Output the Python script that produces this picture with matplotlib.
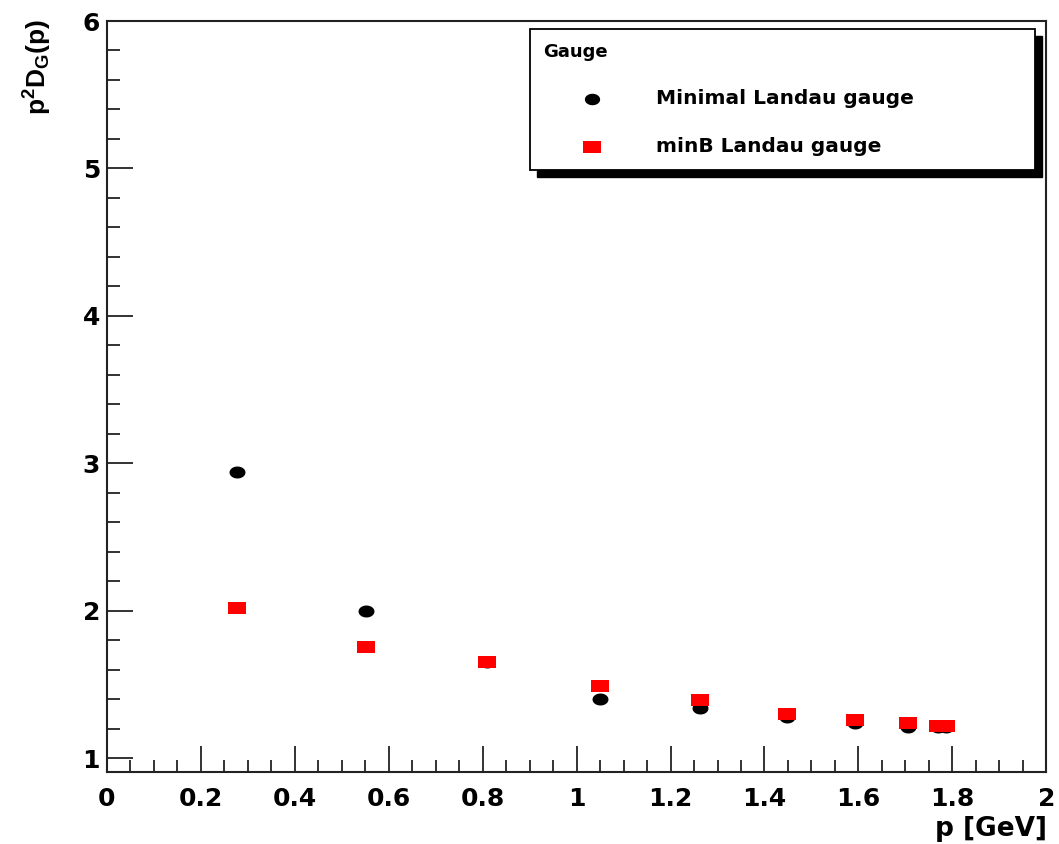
import numpy as np
import matplotlib
matplotlib.use("Agg")
import matplotlib.pyplot as plt
from matplotlib.patches import Rectangle
from matplotlib.ticker import MultipleLocator

plt.rcParams['font.family'] = ['DejaVu Sans']
plt.rcParams['mathtext.default'] = 'regular'

# momentum values [GeV]
p_minimal = [0.277, 0.552, 0.809, 1.050, 1.263, 1.448, 1.593, 1.706, 1.770, 1.787]
p_minB = [0.277, 0.552, 0.809, 1.050, 1.263, 1.448, 1.593, 1.706, 1.770, 1.787]

# dressing function p^2 D_G(p)
d_minimal = [2.94, 2.00, 1.65, 1.40, 1.34, 1.28, 1.24, 1.21, 1.21, 1.21]
d_minB = [2.02, 1.75, 1.65, 1.49, 1.395, 1.30, 1.255, 1.235, 1.22, 1.22]

series_labels = ["Minimal Landau gauge", "minB Landau gauge"]
legend_title = "Gauge"
x_ticks = [0, 0.2, 0.4, 0.6, 0.8, 1, 1.2, 1.4, 1.6, 1.8, 2]
x_ticklabels = ["0", "0.2", "0.4", "0.6", "0.8", "1", "1.2", "1.4", "1.6", "1.8", "2"]
y_ticks = [1, 2, 3, 4, 5, 6]
y_ticklabels = ["1", "2", "3", "4", "5", "6"]

fig = plt.figure(figsize=(10.59, 8.44), dpi=100)
ax = fig.add_axes([0.101, 0.0853, 0.887, 0.8898])

# slightly wide marker shapes
rect_marker = [(-1.45, -1), (1.45, -1), (1.45, 1), (-1.45, 1), (-1.45, -1)]
t = np.linspace(0, 2 * np.pi, 40)
ell_marker = list(zip(1.33 * np.cos(t), np.sin(t)))

ax.plot(p_minimal, d_minimal, linestyle='none', marker=ell_marker, markersize=11.5,
        markerfacecolor='black', markeredgecolor='black', markeredgewidth=0, zorder=3)
ax.plot(p_minB, d_minB, linestyle='none', marker=rect_marker, markersize=12.5,
        markerfacecolor='#ff0000', markeredgecolor='#ff0000', markeredgewidth=0, zorder=4)

ax.set_xlim(0, 2)
ax.set_ylim(0.905, 6)

ax.xaxis.set_minor_locator(MultipleLocator(0.05))
ax.yaxis.set_minor_locator(MultipleLocator(0.2))
ax.set_xticks(x_ticks)
ax.set_xticklabels(x_ticklabels)
ax.set_yticks(y_ticks)
ax.set_yticklabels(y_ticklabels)

ax.tick_params(axis='both', which='both', direction='in', top=False, right=False,
               width=1.3, color='#222222')
ax.tick_params(axis='both', which='major', length=19, labelsize=18)
ax.tick_params(axis='x', which='major', pad=11)
ax.tick_params(axis='y', which='major', pad=5)
ax.tick_params(axis='both', which='minor', length=9)
for lbl in ax.get_xticklabels() + ax.get_yticklabels():
    lbl.set_fontweight('bold')
for s in ax.spines.values():
    s.set_linewidth(1.5)
    s.set_color('#222222')

fig.text(0.989, 0.002, "p [GeV]", ha='right', va='bottom', fontsize=19,
         fontweight='bold')
fig.text(0.036, 0.977, r"p$^{2}$D$_{G}$(p)", ha='center', va='top', rotation=90,
         fontsize=19, fontweight='bold', family=['Liberation Sans', 'DejaVu Sans'])

# legend box with drop shadow (figure pixel coordinates)
W, H = 1059.0, 844.0
def fx(x):
    return x / W
def fy(y):
    return 1 - y / H

bx0, by0, bx1, by1 = 530, 29, 1035, 170
sh = 7
fig.patches.append(Rectangle((fx(bx0 + sh), fy(by1 + sh)), fx(bx1 - bx0), (by1 - by0) / H,
                             transform=fig.transFigure, facecolor='black',
                             edgecolor='black', zorder=5))
fig.patches.append(Rectangle((fx(bx0), fy(by1)), fx(bx1 - bx0), (by1 - by0) / H,
                             transform=fig.transFigure, facecolor='white',
                             edgecolor='black', linewidth=1.3, zorder=6))
fig.text(fx(543), fy(52), legend_title, ha='left', va='center', fontsize=13,
         fontweight='bold', zorder=7)
fig.text(fx(656), fy(99), series_labels[0], ha='left', va='center', fontsize=14.5,
         fontweight='bold', zorder=7)
fig.text(fx(656), fy(147), series_labels[1], ha='left', va='center', fontsize=14.5,
         fontweight='bold', zorder=7)
fig.lines.append(plt.Line2D([fx(592)], [fy(99)], transform=fig.transFigure,
                            marker=ell_marker, markersize=11, color='black',
                            markeredgewidth=0, linestyle='none', zorder=7))
fig.lines.append(plt.Line2D([fx(592)], [fy(147)], transform=fig.transFigure,
                            marker=rect_marker, markersize=12.5, color='#ff0000',
                            markeredgewidth=0, linestyle='none', zorder=7))

fig.savefig("out.png", dpi=100)
